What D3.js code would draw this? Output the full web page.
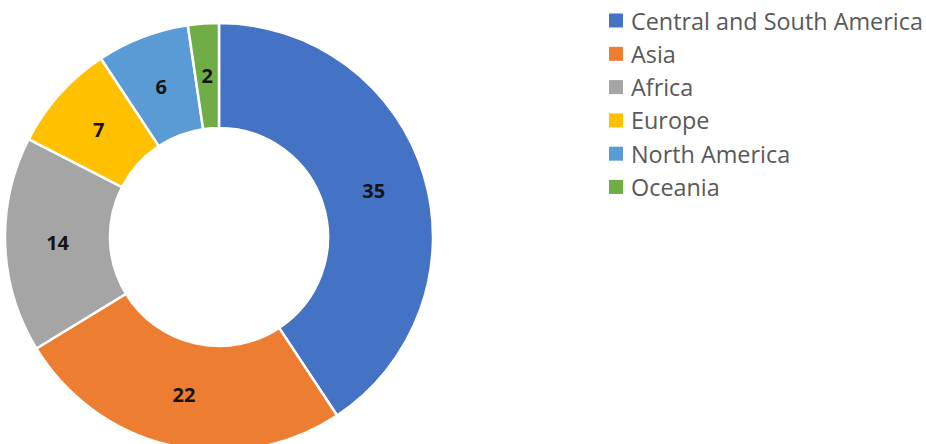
<!DOCTYPE html>
<html>
<head>
<meta charset="utf-8">
<script src="https://cdn.jsdelivr.net/npm/d3@7/dist/d3.min.js"></script>
<style>
  html, body { margin: 0; padding: 0; background: #ffffff; }
  svg { display: block; }
</style>
</head>
<body>
<svg id="chart" width="926" height="444"></svg>
<script>
// Regions and their counts, in drawing order (clockwise from 12 o'clock)
const regions = ["Central and South America", "Asia", "Africa", "Europe", "North America", "Oceania"];
const counts = [35, 22, 14, 7, 6, 2];
const palette = ["#4472C4", "#ED7D31", "#A5A5A5", "#FFC000", "#5B9BD5", "#70AD47"];

const svg = d3.select("#chart");

const cx = 219, cy = 237;
const outerR = 214, innerR = 109;

const data = regions.map((r, i) => ({ region: r, value: counts[i], color: palette[i] }));

const pie = d3.pie().value(d => d.value).sort(null);
const arc = d3.arc().innerRadius(innerR).outerRadius(outerR);
const labelArc = d3.arc().innerRadius((innerR + outerR) / 2).outerRadius((innerR + outerR) / 2);

const g = svg.append("g").attr("transform", `translate(${cx},${cy})`);
const arcs = pie(data);

g.selectAll("path.slice")
  .data(arcs)
  .join("path")
  .attr("class", "slice")
  .attr("d", arc)
  .attr("fill", d => d.data.color)
  .attr("stroke", "#ffffff")
  .attr("stroke-width", 2.5)
  .attr("stroke-linejoin", "miter");

g.selectAll("text.val")
  .data(arcs)
  .join("text")
  .attr("class", "val")
  .attr("transform", d => `translate(${labelArc.centroid(d)})`)
  .attr("text-anchor", "middle")
  .attr("dominant-baseline", "central")
  .attr("font-family", "'Open Sans', sans-serif")
  .attr("font-weight", 700)
  .attr("font-size", 20)
  .attr("fill", "#141414")
  .text(d => d.data.value);

// Legend
const legend = svg.append("g").attr("transform", "translate(609,0)");
const rowH = 33.3, firstY = 20.5;
const items = legend.selectAll("g.item")
  .data(data)
  .join("g")
  .attr("class", "item")
  .attr("transform", (d, i) => `translate(0,${firstY + i * rowH})`);

items.append("rect")
  .attr("x", 0).attr("y", -7)
  .attr("width", 14).attr("height", 14)
  .attr("fill", d => d.color);

const texts = items.append("text")
  .attr("x", 22)
  .attr("y", 0)
  .attr("dominant-baseline", "central")
  .attr("font-family", "'Open Sans', sans-serif")
  .attr("font-size", 20)
  .attr("fill", "#595959")
  .text(d => d.region);

// scale legend font so the longest entry spans the available width
const longest = texts.nodes()[0].getComputedTextLength();
const fs = 20 * 292 / longest;
texts.attr("font-size", fs);
</script>
</body>
</html>
